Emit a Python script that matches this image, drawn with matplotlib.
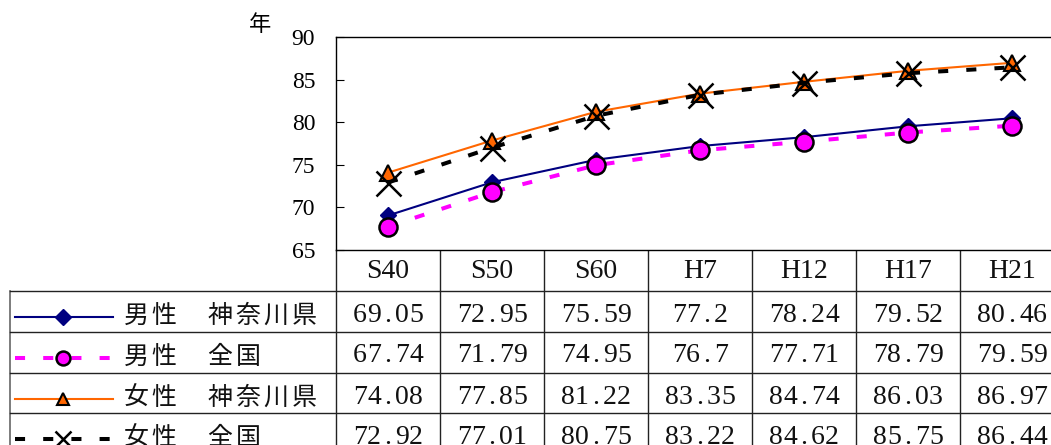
import matplotlib.pyplot as plt

# 平均寿命の推移
years = ["S40", "S50", "S60", "H7", "H12", "H17", "H21"]
male_kanagawa = [69.05, 72.95, 75.59, 77.2, 78.24, 79.52, 80.46]
male_japan = [67.74, 71.79, 74.95, 76.7, 77.71, 78.79, 79.59]
female_kanagawa = [74.08, 77.85, 81.22, 83.35, 84.74, 86.03, 86.97]
female_japan = [72.92, 77.01, 80.75, 83.22, 84.62, 85.75, 86.44]
labels = ["男性　神奈川県", "男性　全国", "女性　神奈川県", "女性　全国"]
yticks = [65, 70, 75, 80, 85, 90]

series = [male_kanagawa, male_japan, female_kanagawa, female_japan]
styles = [
    dict(color="#000080", lw=1.5, ls="-", marker="D", mfc="#000080", mec="#000080", mew=1, ms=8),
    dict(color="#ff00ff", lw=2.9, ls=(0, (2.5, 4.5)), marker="o", mfc="#ff00ff", mec="black", mew=1.8, ms=13),
    dict(color="#ff6600", lw=1.5, ls="-", marker="^", mfc="#ff6600", mec="black", mew=1.5, ms=11),
    dict(color="black", lw=2.9, ls=(0, (2.5, 4.5)), marker="x", mfc="none", mec="black", mew=1.8, ms=18),
]
legend_ms = [8, 10, 9, 12]
marker_keys = ("marker", "mfc", "mec", "mew", "ms")

W, H = 1051, 445
fig = plt.figure(figsize=(W / 100, H / 100), dpi=100)

# table layout (pixels)
col_w = 104
x0 = 336
top = 250
row_tops = [291, 332, 373, 413, 454]

ax = fig.add_axes([x0 / W, (H - top) / H, 7 * col_w / W, (top - 37) / H])
x = list(range(len(years)))
for vals, st in zip(series, styles):
    ax.plot(x, vals, dash_capstyle="butt", **st)
ax.set_xlim(-0.5, 6.5)
ax.set_ylim(65, 90)
ax.set_yticks(yticks)
ax.set_yticklabels([str(v) for v in yticks], fontfamily="Liberation Serif", fontsize=17)
ax.set_xticks([])
ax.tick_params(axis="y", direction="in", length=6, pad=15)
for s in ax.spines.values():
    s.set_linewidth(1)
    s.set_color("black")
ax.text(-0.105, 1.06, "年", transform=ax.transAxes, fontfamily="Noto Sans CJK JP",
        fontsize=16, ha="center", va="center")

# table below the plot, in pixel units
tab = fig.add_axes([0, 0, 1, 1], zorder=-1)
tab.set_xlim(0, W)
tab.set_ylim(H, 0)
tab.axis("off")

lc = "#222222"
xr = x0 + 7 * col_w
for i in range(8):
    xv = x0 + i * col_w
    tab.plot([xv, xv], [top, H], color=lc, lw=1)
tab.plot([10, 10], [row_tops[0], H], color="#666666", lw=1.2)
for yv in row_tops[:4]:
    tab.plot([10, xr], [yv, yv], color=lc, lw=1)


def spaced(xc, yc, s, pitch, **kw):
    start = xc - len(s) * pitch / 2
    for i, ch in enumerate(s):
        tab.text(start + (i + 0.5) * pitch, yc, ch, ha="center", va="center", **kw)


num_font = dict(fontfamily="Liberation Serif", fontsize=20, color="#111111")
for i, y in enumerate(years):
    tab.text(x0 + (i + 0.5) * col_w, top + 22, y, ha="center", va="center", **num_font)

for r, (vals, st, lab) in enumerate(zip(series, styles, labels)):
    yc = row_tops[r] + 24
    # legend sample: line, then marker in the middle
    smp = dict(st)
    smp["ms"] = legend_ms[r]
    tab.plot([15, 113], [yc + 2, yc + 2], dash_capstyle="butt",
             **{k: v for k, v in smp.items() if k not in marker_keys})
    tab.plot([63], [yc + 2], ls="none", **{k: v for k, v in smp.items() if k in marker_keys})
    for j, ch in enumerate(lab):
        tab.text(136 + 28 * j, yc + 1, ch, ha="center", va="center",
                 fontfamily="Noto Sans CJK JP", fontsize=18, color="#111111")
    for i, v in enumerate(vals):
        spaced(x0 + (i + 0.5) * col_w, yc, f"{v:g}", 14, **num_font)

fig.savefig("out.png", dpi=100)
